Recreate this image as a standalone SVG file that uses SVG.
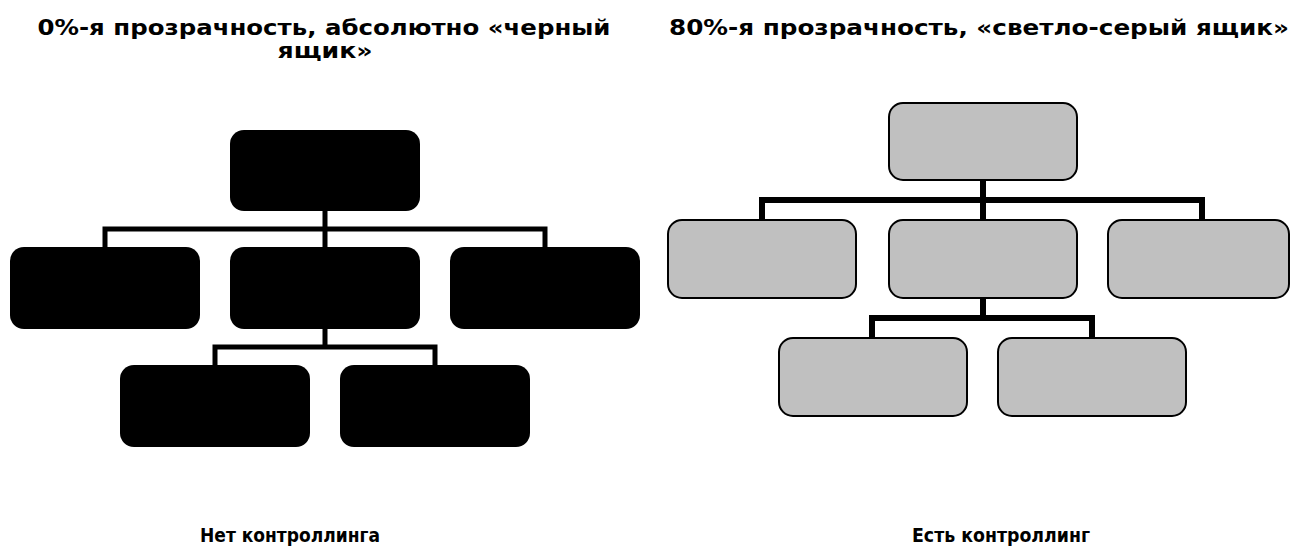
<svg xmlns="http://www.w3.org/2000/svg" width="1291" height="551" viewBox="0 0 1291 551">
<style>
.t{font-family:"DejaVu Sans","Verdana",sans-serif;font-weight:bold;font-size:19px;fill:#000;text-anchor:middle}
.h{font-size:21px}
.blk{fill:#000;stroke:none}
.gry{fill:#c0c0c0;stroke:#000;stroke-width:2}
.cl{fill:none;stroke:#000;stroke-width:5}
.cr{fill:none;stroke:#000;stroke-width:6}
</style>
<rect width="1291" height="551" fill="#fff"/>
<g id="titles">
<text class="t h" x="324" y="35" textLength="573" lengthAdjust="spacingAndGlyphs">0%-я прозрачность, абсолютно «черный</text>
<text class="t h" x="325" y="58" textLength="95" lengthAdjust="spacingAndGlyphs">ящик»</text>
<text class="t h" x="979" y="35" textLength="620" lengthAdjust="spacingAndGlyphs">80%-я прозрачность, «светло-серый ящик»</text>
<text class="t" x="290" y="542" textLength="180" lengthAdjust="spacingAndGlyphs">Нет контроллинга</text>
<text class="t" x="1001" y="542" textLength="178" lengthAdjust="spacingAndGlyphs">Есть контроллинг</text>
</g>
<g id="connectors">
<path class="cl" d="M325 210V248M105 248V229H545V248M325 328V347M215 366V347H435V366"/>
<path class="cr" d="M983 181V220M762 220V200H1202V220M983 298V318M872 338V318H1092V338"/>
</g>
<g id="l-top"><rect class="blk" x="230" y="130" width="190" height="81" rx="14"/></g>
<g id="l-m1"><rect class="blk" x="10" y="247" width="190" height="82" rx="14"/></g>
<g id="l-m2"><rect class="blk" x="230" y="247" width="190" height="82" rx="14"/></g>
<g id="l-m3"><rect class="blk" x="450" y="247" width="190" height="82" rx="14"/></g>
<g id="l-b1"><rect class="blk" x="120" y="365" width="190" height="82" rx="14"/></g>
<g id="l-b2"><rect class="blk" x="340" y="365" width="190" height="82" rx="14"/></g>
<g id="r-top"><rect class="gry" x="889" y="103" width="188" height="77" rx="14"/></g>
<g id="r-m1"><rect class="gry" x="668" y="220" width="188" height="78" rx="14"/></g>
<g id="r-m2"><rect class="gry" x="889" y="220" width="188" height="78" rx="14"/></g>
<g id="r-m3"><rect class="gry" x="1108" y="220" width="181" height="78" rx="14"/></g>
<g id="r-b1"><rect class="gry" x="779" y="338" width="188" height="78" rx="14"/></g>
<g id="r-b2"><rect class="gry" x="998" y="338" width="188" height="78" rx="14"/></g>
</svg>
